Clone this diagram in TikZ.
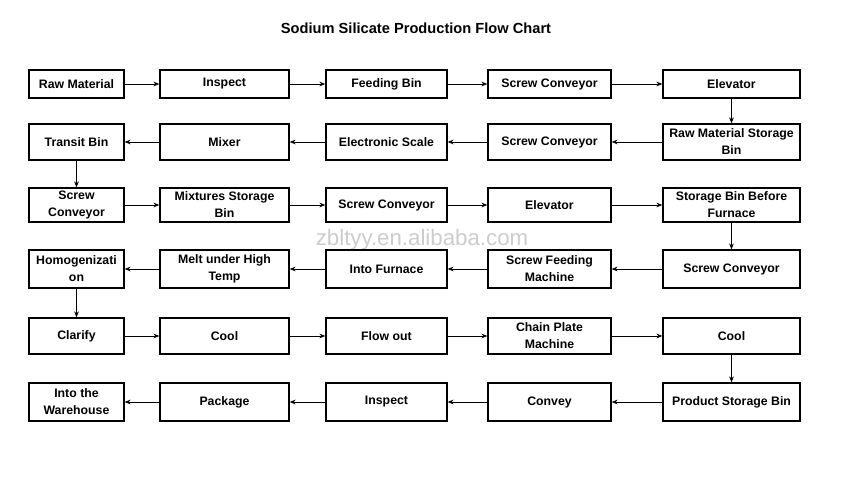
\documentclass[tikz,border=0pt]{standalone}
\usepackage{fontspec}
\setmainfont{Liberation Sans}
\usetikzlibrary{arrows.meta}
\tikzset{
  stage/.style={draw=black, line width=1.2pt, inner sep=1pt, align=center,
    font=\fontsize{10.5}{14.5}\selectfont\bfseries},
  colA/.style={stage, minimum width=2.85cm},
  colB/.style={stage, minimum width=3.87cm},
  colC/.style={stage, minimum width=3.63cm},
  colD/.style={stage, minimum width=3.69cm},
  colE/.style={stage, minimum width=4.11cm},
  flow/.style={-{Stealth[length=5pt,width=4pt]}, line width=0.6pt}
}
\begin{document}
\begin{tikzpicture}[x=0.03cm, y=-0.03cm]
  \useasboundingbox (0,0) rectangle (844,482);
  \node[font=\fontsize{12.5}{14}\selectfont\bfseries] (title) at (416,28) {Sodium Silicate Production Flow Chart};
  \node[text=black!20, font=\fontsize{19}{22}\selectfont] (mark) at (422,240) {zbltyy.en.alibaba.com};
  % column centres
  \def\xA{76.5}\def\xB{224.5}\def\xC{386.5}\def\xD{549.5}\def\xE{731.5}
  % row 1
  \begin{scope}[every node/.append style={minimum height=0.84cm}]
  \node[colA] (r1a) at (\xA,84) {Raw Material};
  \node[colB] (r1b) at (\xB,84) {Inspect};
  \node[colC] (r1c) at (\xC,84) {Feeding Bin};
  \node[colD] (r1d) at (\xD,84) {Screw Conveyor};
  \node[colE] (r1e) at (\xE,84) {Elevator};
  \end{scope}
  % row 2
  \begin{scope}[every node/.append style={minimum height=1.08cm}]
  \node[colA] (r2a) at (\xA,142) {Transit Bin};
  \node[colB] (r2b) at (\xB,142) {Mixer};
  \node[colC] (r2c) at (\xC,142) {Electronic Scale};
  \node[colD] (r2d) at (\xD,142) {Screw Conveyor};
  \node[colE] (r2e) at (\xE,142) {Raw Material Storage\\Bin};
  \end{scope}
  % row 3
  \begin{scope}[every node/.append style={minimum height=1.02cm}]
  \node[colA] (r3a) at (\xA,205) {Screw\\Conveyor};
  \node[colB] (r3b) at (\xB,205) {Mixtures Storage\\Bin};
  \node[colC] (r3c) at (\xC,205) {Screw Conveyor};
  \node[colD] (r3d) at (\xD,205) {Elevator};
  \node[colE] (r3e) at (\xE,205) {Storage Bin Before\\Furnace};
  \end{scope}
  % row 4
  \begin{scope}[every node/.append style={minimum height=1.14cm}]
  \node[colA] (r4a) at (\xA,269) {Homogenizati\\on};
  \node[colB] (r4b) at (\xB,269) {Melt under High\\Temp};
  \node[colC] (r4c) at (\xC,269) {Into Furnace};
  \node[colD] (r4d) at (\xD,269) {Screw Feeding\\Machine};
  \node[colE] (r4e) at (\xE,269) {Screw Conveyor};
  \end{scope}
  % row 5
  \begin{scope}[every node/.append style={minimum height=1.08cm}]
  \node[colA] (r5a) at (\xA,336) {Clarify};
  \node[colB] (r5b) at (\xB,336) {Cool};
  \node[colC] (r5c) at (\xC,336) {Flow out};
  \node[colD] (r5d) at (\xD,336) {Chain Plate\\Machine};
  \node[colE] (r5e) at (\xE,336) {Cool};
  \end{scope}
  % row 6
  \begin{scope}[every node/.append style={minimum height=1.14cm}]
  \node[colA] (r6a) at (\xA,402) {Into the\\Warehouse};
  \node[colB] (r6b) at (\xB,402) {Package};
  \node[colC] (r6c) at (\xC,402) {Inspect};
  \node[colD] (r6d) at (\xD,402) {Convey};
  \node[colE] (r6e) at (\xE,402) {Product Storage Bin};
  \end{scope}
  % connectors
  \foreach \u/\v in {r1a/r1b, r1b/r1c, r1c/r1d, r1d/r1e,
                     r2e/r2d, r2d/r2c, r2c/r2b, r2b/r2a,
                     r3a/r3b, r3b/r3c, r3c/r3d, r3d/r3e,
                     r4e/r4d, r4d/r4c, r4c/r4b, r4b/r4a,
                     r5a/r5b, r5b/r5c, r5c/r5d, r5d/r5e,
                     r6e/r6d, r6d/r6c, r6c/r6b, r6b/r6a}
    \draw[flow] (\u) -- (\v);
  \foreach \u/\v in {r1e/r2e, r2a/r3a, r3e/r4e, r4a/r5a, r5e/r6e}
    \draw[flow] (\u) -- (\v);
\end{tikzpicture}
\end{document}
